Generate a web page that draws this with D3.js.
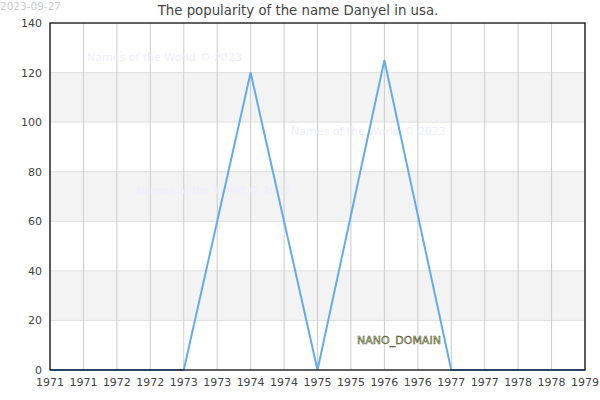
<!DOCTYPE html>
<html>
<head>
<meta charset="utf-8">
<script src="https://cdn.jsdelivr.net/npm/d3@7"></script>
<style>
  body { margin: 0; background: #fff; }
  svg { font-family: "DejaVu Sans", sans-serif; }
</style>
</head>
<body>
<svg width="600" height="400"></svg>
<script>
const years = [1971, 1972, 1973, 1974, 1975, 1976, 1977, 1978, 1979];
const counts = [0, 0, 0, 120, 0, 125, 0, 0, 0];
const xTicks = [1971, 1971.5, 1972, 1972.5, 1973, 1973.5, 1974, 1974.5, 1975, 1975.5, 1976, 1976.5, 1977, 1977.5, 1978, 1978.5, 1979];
const xTickLabels = ["1971", "1971", "1972", "1972", "1973", "1973", "1974", "1974", "1975", "1975", "1976", "1976", "1977", "1977", "1978", "1978", "1979"];
const yTicks = [0, 20, 40, 60, 80, 100, 120, 140];
const bands = [[100, 120], [60, 80], [20, 40]];
const watermarks = [[87, 61], [291, 135], [136, 194]];

const svg = d3.select("svg");
const m = { left: 50, right: 585, top: 23, bottom: 370 };

const x = d3.scaleLinear().domain([1971, 1979]).range([m.left, m.right]);
const y = d3.scaleLinear().domain([0, 140]).range([m.bottom, m.top]);

// date stamp and title
svg.append("text").attr("x", 0).attr("y", 9.5).attr("font-size", 10.5).attr("fill", "#ccc").text("2023-09-27");
svg.append("text").attr("x", 298).attr("y", 15).attr("text-anchor", "middle")
  .attr("font-size", 13.3).attr("fill", "#444").text("The popularity of the name Danyel in usa.");

// bands
svg.append("g").selectAll("rect").data(bands).enter().append("rect")
  .attr("x", m.left).attr("width", m.right - m.left)
  .attr("y", d => y(d[1])).attr("height", d => y(d[0]) - y(d[1]))
  .attr("fill", "#f3f3f3");

// horizontal grid
svg.append("g").selectAll("line").data(yTicks).enter().append("line")
  .attr("x1", m.left).attr("x2", m.right)
  .attr("y1", d => y(d)).attr("y2", d => y(d))
  .attr("stroke", "#e0e0e0");

// vertical grid
svg.append("g").selectAll("line").data(xTicks).enter().append("line")
  .attr("x1", d => x(d)).attr("x2", d => x(d))
  .attr("y1", m.top).attr("y2", m.bottom)
  .attr("stroke", "#ccc");

// watermarks
svg.append("g").selectAll("text").data(watermarks).enter().append("text")
  .attr("x", d => d[0]).attr("y", d => d[1])
  .attr("font-size", 11).attr("fill", "#eeeeff")
  .text("Names of the World © 2023");

// line
const line = d3.line().x((d, i) => x(years[i])).y(d => y(d));
svg.append("path").datum(counts)
  .attr("d", line).attr("fill", "none")
  .attr("stroke", "#66aaf0").attr("stroke-width", 2);

// frame
svg.append("rect").attr("x", m.left).attr("y", m.top)
  .attr("width", m.right - m.left).attr("height", m.bottom - m.top)
  .attr("fill", "none").attr("stroke", "#000").attr("stroke-width", 1.2);

// y labels
svg.append("g").selectAll("text").data(yTicks).enter().append("text")
  .attr("x", 42).attr("y", d => y(d) + 4).attr("text-anchor", "end")
  .attr("font-size", 11).attr("fill", "#444").text(d => d);

// x labels
svg.append("g").selectAll("text").data(xTicks).enter().append("text")
  .attr("x", d => x(d)).attr("y", 386).attr("text-anchor", "middle")
  .attr("font-size", 11).attr("fill", "#444").text((d, i) => xTickLabels[i]);

// domain tag
svg.append("text").attr("x", 399).attr("y", 344).attr("text-anchor", "middle")
  .attr("font-size", 11).attr("fill", "#dcdca8").attr("stroke", "#3d4a1f")
  .attr("stroke-width", 0.5).text("NANO_DOMAIN");
</script>
</body>
</html>
